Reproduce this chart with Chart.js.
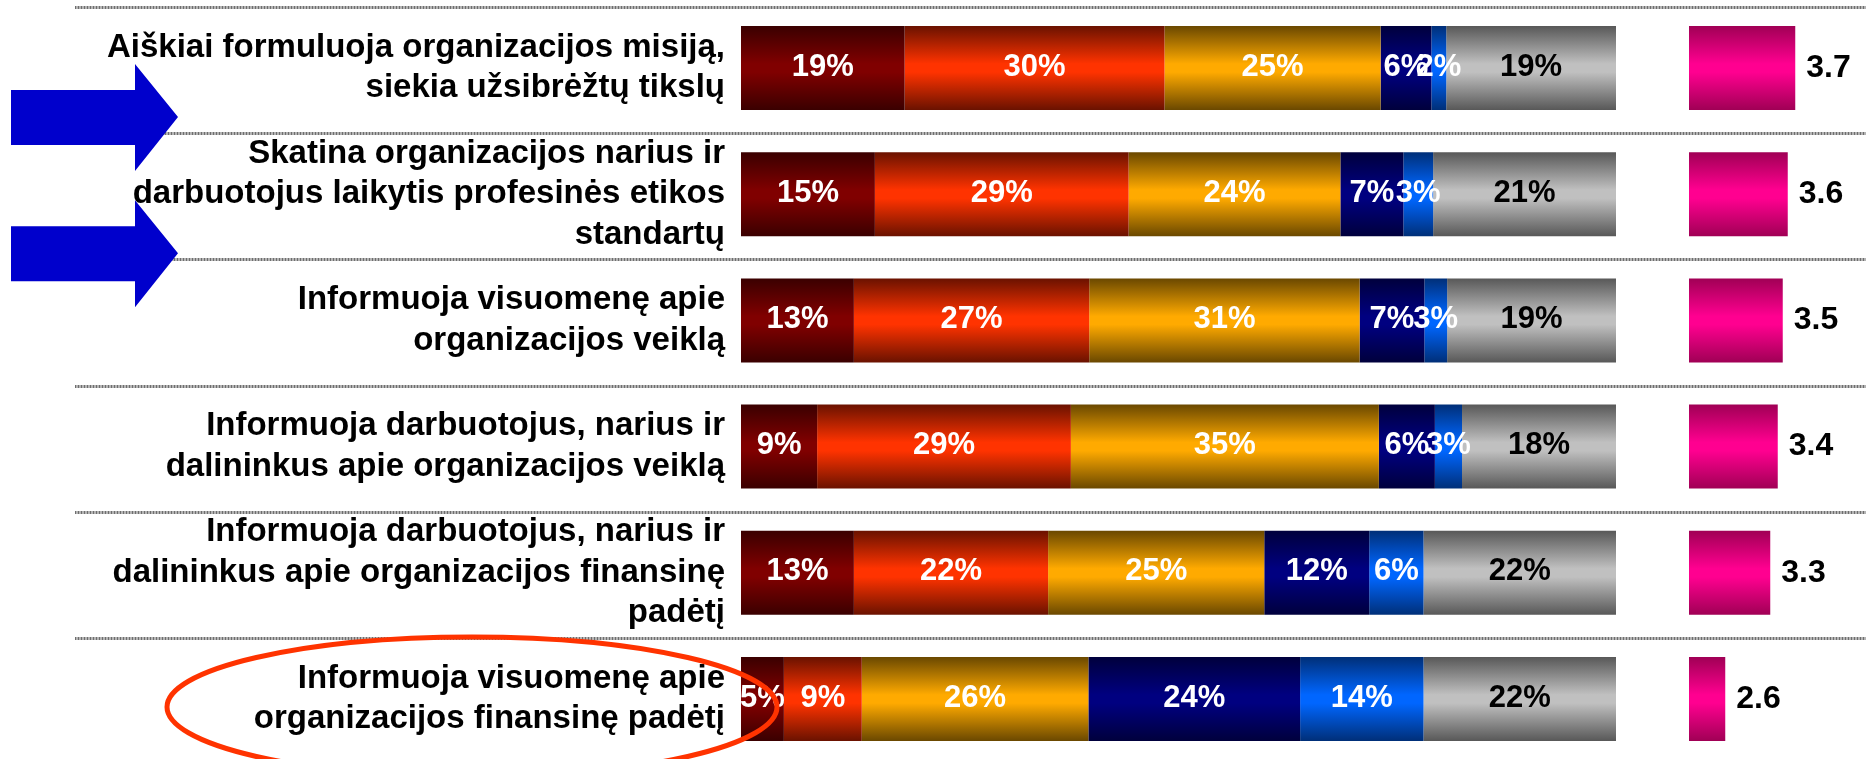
<!DOCTYPE html>
<html><head><meta charset="utf-8">
<script src="https://cdn.jsdelivr.net/npm/chart.js@4/dist/chart.umd.min.js"></script>
<style>
html,body{margin:0;padding:0;background:#fff;overflow:hidden;}
#wrap{position:relative;width:1866px;height:759px;overflow:hidden;background:#fff;}
#c1{position:absolute;left:0;top:0;}
#c2{position:absolute;left:1689px;top:0;}
</style></head><body>
<div id="wrap"><canvas id="c1" width="1866" height="764"></canvas><canvas id="c2" width="177" height="764"></canvas></div>
<script>
// ---- data ----
const categories = [
  ["Aiškiai formuluoja organizacijos misiją,", "siekia užsibrėžtų tikslų"],
  ["Skatina organizacijos narius ir", "darbuotojus laikytis profesinės etikos", "standartų"],
  ["Informuoja visuomenę apie", "organizacijos veiklą"],
  ["Informuoja darbuotojus, narius ir", "dalininkus apie organizacijos veiklą"],
  ["Informuoja darbuotojus, narius ir", "dalininkus apie organizacijos finansinę", "padėtį"],
  ["Informuoja visuomenę apie", "organizacijos finansinę padėtį"]
];
const seriesNames = ["5", "4", "3", "2", "1", "Nežino"];
const series1 = [18.7, 15.3, 12.9, 8.7, 12.9, 4.9];
const series2 = [29.7, 29.0, 26.9, 29.0, 22.2, 8.9];
const series3 = [24.7, 24.2, 30.9, 35.2, 24.7, 25.9];
const series4 = [5.8, 7.2, 7.4, 6.4, 12.0, 24.2];
const series5 = [1.7, 3.4, 2.6, 3.1, 6.2, 14.1];
const series6 = [19.4, 20.9, 19.3, 17.6, 22.0, 22.0];
const meanValues = [3.70, 3.58, 3.50, 3.42, 3.30, 2.58];

// ---- styles ----
const FONT = '"Liberation Sans", Arial, Helvetica, sans-serif';
Chart.defaults.font.family = FONT;
const BAR_PCT = 0.666;
const segColors = [
  ['#3a0000', '#800000'],
  ['#6a1200', '#ff3300'],
  ['#6a4800', '#ffaa00'],
  ['#00003c', '#000080'],
  ['#002f78', '#0066ff'],
  ['#585858', '#c0c0c0']
];
const segLabelColors = ['#fff', '#fff', '#fff', '#fff', '#fff', '#000'];
const meanColor = ['#a00055', '#ff0090'];

function grad(edge, mid) {
  return (ctx) => {
    const chart = ctx.chart;
    const ys = chart.scales.y;
    if (!ys || ctx.dataIndex === undefined || !chart.chartArea) return mid;
    const n = chart.data.labels.length;
    const pitch = (ys.bottom - ys.top) / n;
    const c = ys.getPixelForValue(ctx.dataIndex);
    const h = pitch * BAR_PCT / 2;
    const g = chart.ctx.createLinearGradient(0, c - h, 0, c + h);
    g.addColorStop(0, edge);
    g.addColorStop(0.45, mid);
    g.addColorStop(0.55, mid);
    g.addColorStop(1, edge);
    return g;
  };
}

const separators = {
  id: 'separators',
  beforeDatasetsDraw(chart) {
    const ys = chart.scales.y, ctx = chart.ctx;
    const n = chart.data.labels.length;
    const pitch = (ys.bottom - ys.top) / n;
    ctx.save();
    for (let k = 0; k < n; k++) {
      const y = Math.round(ys.top + k * pitch + 2) + 0.5;
      ctx.lineWidth = 3;
      ctx.strokeStyle = '#b4b4b4';
      ctx.beginPath(); ctx.moveTo(75, y); ctx.lineTo(chart.width, y); ctx.stroke();
      ctx.setLineDash([1, 2]);
      ctx.strokeStyle = '#6e6e6e';
      ctx.beginPath(); ctx.moveTo(75, y); ctx.lineTo(chart.width, y); ctx.stroke();
      ctx.setLineDash([]);
    }
    ctx.restore();
  }
};

const pctLabels = {
  id: 'pctLabels',
  afterDatasetsDraw(chart) {
    const ctx = chart.ctx;
    ctx.save();
    ctx.font = 'bold 31px ' + FONT;
    ctx.textAlign = 'center';
    ctx.textBaseline = 'middle';
    chart.data.datasets.forEach((ds, di) => {
      const meta = chart.getDatasetMeta(di);
      meta.data.forEach((bar, i) => {
        const v = ds.data[i];
        ctx.fillStyle = segLabelColors[di];
        ctx.fillText(Math.round(v) + '%', (bar.x + bar.base) / 2, bar.y - 1);
      });
    });
    ctx.restore();
  }
};

const annotations = {
  id: 'annotations',
  afterDraw(chart) {
    const ys = chart.scales.y, ctx = chart.ctx;
    ctx.save();
    const arrow = (cy) => {
      ctx.fillStyle = '#0000cc';
      ctx.beginPath();
      ctx.moveTo(11, cy - 27);
      ctx.lineTo(135, cy - 27);
      ctx.lineTo(135, cy - 53);
      ctx.lineTo(178, cy);
      ctx.lineTo(135, cy + 54);
      ctx.lineTo(135, cy + 28);
      ctx.lineTo(11, cy + 28);
      ctx.closePath();
      ctx.fill();
    };
    arrow(ys.getPixelForValue(0) + 49);
    arrow(ys.getPixelForValue(1) + 59);
    ctx.strokeStyle = '#ff3300';
    ctx.lineWidth = 5;
    ctx.beginPath();
    ctx.ellipse(472, ys.getPixelForValue(5) + 8, 305, 70, 0, 0, Math.PI * 2);
    ctx.stroke();
    ctx.restore();
  }
};

const seriesData = [series1, series2, series3, series4, series5, series6];

new Chart(document.getElementById('c1'), {
  type: 'bar',
  data: {
    labels: categories,
    datasets: seriesData.map((d, i) => ({
      label: seriesNames[i],
      data: d,
      backgroundColor: grad(segColors[i][0], segColors[i][1]),
      borderWidth: 0,
      barPercentage: BAR_PCT,
      categoryPercentage: 1
    }))
  },
  options: {
    indexAxis: 'y',
    responsive: false,
    animation: false,
    events: [],
    layout: { padding: { left: 0, right: 250, top: 4.9, bottom: 1.9 } },
    plugins: { legend: { display: false }, tooltip: { enabled: false } },
    scales: {
      x: { stacked: true, min: 0, max: 100, display: false },
      y: {
        stacked: true,
        grid: { display: false, drawTicks: false },
        border: { display: false },
        ticks: {
          autoSkip: false,
          color: '#000',
          padding: 16,
          font: { size: 33, weight: 'bold', lineHeight: 1.227 }
        },
        afterFit(scale) {
          scale.width = 741;
          scale.paddingTop = 0;
          scale.paddingBottom = 0;
        }
      }
    }
  },
  plugins: [separators, pctLabels, annotations]
});

const meanLabels = {
  id: 'meanLabels',
  afterDatasetsDraw(chart) {
    const ctx = chart.ctx;
    ctx.save();
    ctx.font = 'bold 32px ' + FONT;
    ctx.textAlign = 'left';
    ctx.textBaseline = 'middle';
    ctx.fillStyle = '#000';
    const meta = chart.getDatasetMeta(0);
    meta.data.forEach((bar, i) => {
      ctx.fillText(chart.data.datasets[0].data[i].toFixed(1), bar.x + 11, bar.y);
    });
    ctx.restore();
  }
};

new Chart(document.getElementById('c2'), {
  type: 'bar',
  data: {
    labels: categories,
    datasets: [{
      label: 'Vidurkis',
      data: meanValues,
      backgroundColor: grad(meanColor[0], meanColor[1]),
      borderWidth: 0,
      barPercentage: BAR_PCT,
      categoryPercentage: 1
    }]
  },
  options: {
    indexAxis: 'y',
    responsive: false,
    animation: false,
    events: [],
    layout: { padding: { left: 0, right: 0, top: 4.9, bottom: 1.9 } },
    plugins: { legend: { display: false }, tooltip: { enabled: false } },
    scales: {
      x: { min: 2, max: 4.832, display: false },
      y: { display: false }
    }
  },
  plugins: [meanLabels]
});
</script>
</body></html>
